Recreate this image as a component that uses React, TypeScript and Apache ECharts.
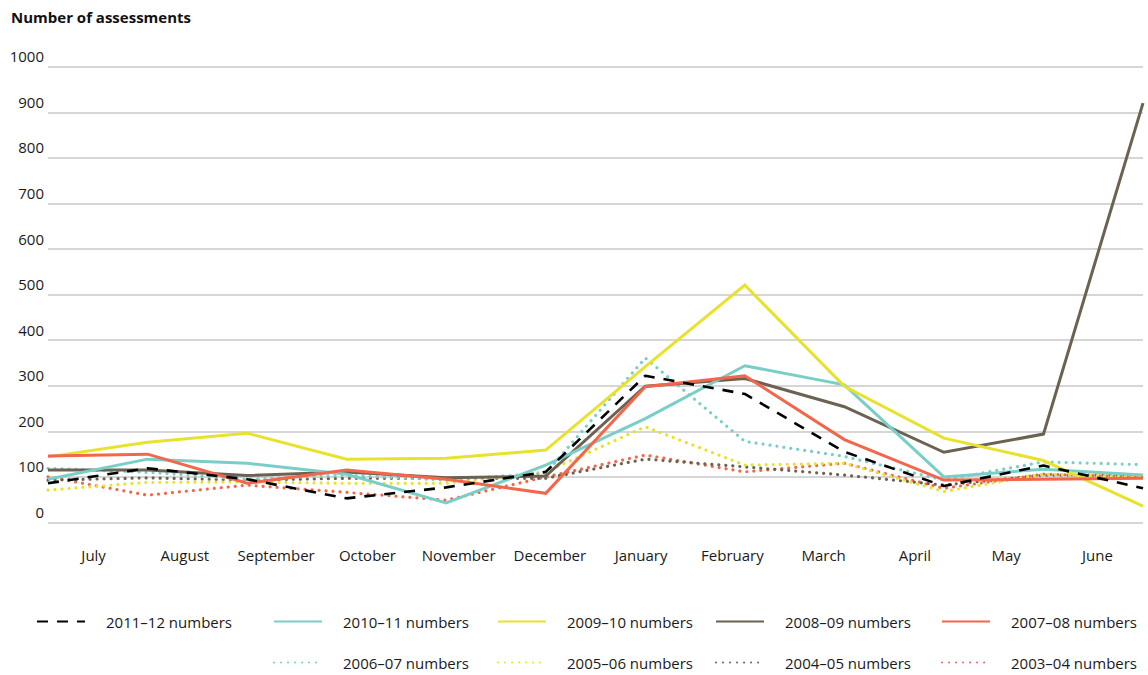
import React, { useEffect, useRef } from "react";
import * as echarts from "echarts";

const months = ["July", "August", "September", "October", "November", "December", "January", "February", "March", "April", "May", "June"];
const yTicks = [0, 100, 200, 300, 400, 500, 600, 700, 800, 900, 1000];

const s2011 = [86, 119, 95, 53, 77, 111, 322, 282, 155, 80, 125, 75];
const s2010 = [95, 139, 130, 106, 43, 126, 228, 344, 302, 100, 117, 104];
const s2009 = [144, 176, 196, 139, 141, 159, 342, 521, 299, 185, 136, 36];
const s2008 = [115, 115, 103, 111, 98, 102, 299, 316, 254, 154, 194, 920];
const s2007 = [146, 150, 86, 115, 95, 64, 298, 322, 182, 93, 95, 97];
const s2006 = [119, 110, 95, 104, 93, 108, 361, 178, 145, 93, 133, 127];
const s2005 = [71, 88, 89, 86, 86, 111, 210, 126, 130, 68, 106, 100];
const s2004 = [93, 98, 93, 97, 97, 97, 139, 122, 104, 82, 104, 104];
const s2003 = [100, 60, 82, 66, 49, 100, 148, 111, 130, 75, 106, 100];

const TEAL = "#79cfc8";
const YELLOW = "#e8e22c";
const BROWN = "#6b6252";
const RED = "#f2674b";
const FONT = "'Open Sans', 'Noto Sans', sans-serif";

type Def = { name: string; data: number[]; color: string; kind: "solid" | "dot" | "dash" };

const defs: Def[] = [
  { name: "2003–04 numbers", data: s2003, color: RED, kind: "dot" },
  { name: "2004–05 numbers", data: s2004, color: BROWN, kind: "dot" },
  { name: "2005–06 numbers", data: s2005, color: YELLOW, kind: "dot" },
  { name: "2006–07 numbers", data: s2006, color: TEAL, kind: "dot" },
  { name: "2008–09 numbers", data: s2008, color: BROWN, kind: "solid" },
  { name: "2010–11 numbers", data: s2010, color: TEAL, kind: "solid" },
  { name: "2009–10 numbers", data: s2009, color: YELLOW, kind: "solid" },
  { name: "2007–08 numbers", data: s2007, color: RED, kind: "solid" },
  { name: "2011–12 numbers", data: s2011, color: "#000000", kind: "dash" },
];

const legendLayout: { name: string; left: number; top: number }[] = [
  { name: "2011–12 numbers", left: 36, top: 614 },
  { name: "2010–11 numbers", left: 273, top: 614 },
  { name: "2009–10 numbers", left: 497, top: 614 },
  { name: "2008–09 numbers", left: 715, top: 614 },
  { name: "2007–08 numbers", left: 941, top: 614 },
  { name: "2006–07 numbers", left: 273, top: 655 },
  { name: "2005–06 numbers", left: 497, top: 655 },
  { name: "2004–05 numbers", left: 715, top: 655 },
  { name: "2003–04 numbers", left: 941, top: 655 },
];

export default function App() {
  const ref = useRef<HTMLDivElement>(null);
  useEffect(() => {
    if (!ref.current) return;
    const chart = echarts.init(ref.current, undefined, { renderer: "svg" });
    const series = defs.map((d) => ({
      name: d.name,
      type: "line",
      data: d.data,
      xAxisIndex: 0,
      symbol: "none",
      showSymbol: false,
      color: d.color,
      lineStyle:
        d.kind === "solid"
          ? { color: d.color, width: 3, cap: "butt", join: "miter" }
          : d.kind === "dot"
          ? { color: d.color, width: 3.2, type: [0.01, 7], cap: "round" }
          : { color: d.color, width: 2.6, type: [11, 9], cap: "butt" },
      emphasis: { disabled: true },
    }));
    chart.setOption({
      animation: false,
      backgroundColor: "#ffffff",
      title: {
        text: "Number of assessments",
        left: 11,
        top: 9,
        padding: 0,
        textStyle: { fontFamily: FONT, fontSize: 15, fontWeight: "bold", color: "#111" },
      },
      legend: legendLayout.map((l) => ({
        data: [l.name],
        left: l.left,
        top: l.top,
        padding: 0,
        itemWidth: 48,
        itemHeight: 16,
        selectedMode: false,
        itemStyle: { opacity: 0 },
        textStyle: { fontFamily: FONT, fontSize: 15, color: "#1a1a1a", padding: [0, 0, 0, 16] },
      })),
      grid: { left: 48, right: 5, top: 66.7, bottom: 152.5, containLabel: false },
      xAxis: [
        {
          type: "category",
          data: months,
          boundaryGap: false,
          position: "bottom",
          axisLine: { show: false },
          axisTick: { show: false },
          axisLabel: { show: false },
          splitLine: { show: false },
        },
        {
          type: "category",
          data: months,
          boundaryGap: true,
          position: "bottom",
          axisLine: { show: false },
          axisTick: { show: false },
          axisLabel: { show: true, margin: 25, fontFamily: FONT, fontSize: 15, color: "#1a1a1a", interval: 0 },
          splitLine: { show: false },
        },
      ],
      yAxis: {
        type: "value",
        min: yTicks[0],
        max: yTicks[yTicks.length - 1],
        interval: 100,
        axisLine: { show: false },
        axisTick: { show: false },
        axisLabel: {
          fontFamily: FONT,
          fontSize: 15,
          color: "#1a1a1a",
          margin: 4,
          verticalAlign: "bottom",
          padding: [0, 0, 3, 0],
          formatter: (v: number) => String(v),
        },
        splitLine: { lineStyle: { color: "#c9c9c9", width: 1.5 } },
      },
      series,
    });
    return () => chart.dispose();
  }, []);
  return (
    <div
      ref={ref}
      style={{ position: "fixed", left: 0, top: 0, width: 1148, height: 675, background: "#fff" }}
    />
  );
}
